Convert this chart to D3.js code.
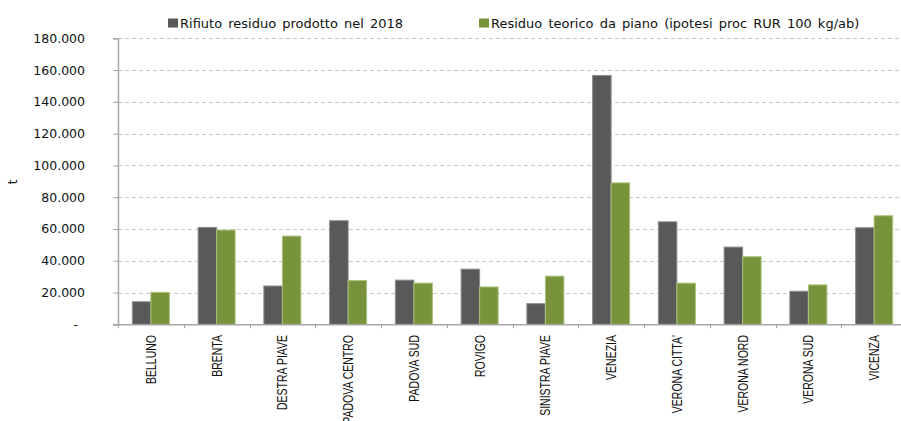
<!DOCTYPE html>
<html><head><meta charset="utf-8">
<script src="https://cdn.jsdelivr.net/npm/d3@7"></script>
<style>
body{margin:0;background:#fff;}
svg{display:block;}
</style></head>
<body>
<svg id="c" width="901" height="421"></svg>
<script>
const categories = ["BELLUNO","BRENTA","DESTRA PIAVE","PADOVA CENTRO","PADOVA SUD","ROVIGO","SINISTRA PIAVE","VENEZIA","VERONA CITTA'","VERONA NORD","VERONA SUD","VICENZA"];
const seriesNames = ["Rifiuto residuo prodotto nel 2018","Residuo teorico da piano (ipotesi proc RUR 100 kg/ab)"];
const prodotto2018 = [14200,61000,24100,65200,27800,34700,13000,156600,64500,48600,20800,60800];
const teorico = [20100,59300,55500,27500,25900,23500,30300,89000,25900,42500,24800,68300];
const yTicks = [0,20000,40000,60000,80000,100000,120000,140000,160000,180000];
const yTitle = "t";

const fills = ["#595959","#77933c"];
const strokes = ["#8c8c8c","#a9c27a"];

const svg = d3.select("#c");
const pLeft = 118, pRight = 907, pTop = 38.3, pBottom = 324.3;

const x = d3.scaleBand().domain(categories).range([pLeft, pRight]).paddingInner(0).paddingOuter(0);
const x1 = d3.scaleBand().domain([0,1]).range([0, x.bandwidth()]).paddingInner(0).paddingOuter(0.777);
const y = d3.scaleLinear().domain([0,180000]).range([pBottom, pTop]);

const fmt = v => v === 0 ? "-" : d3.format(",")(v).replace(/,/g, ".");

// gridlines
svg.append("g").selectAll("line").data(yTicks.filter(d => d > 0)).join("line")
  .attr("x1", pLeft).attr("x2", 901)
  .attr("y1", d => Math.round(y(d)) + 0.5).attr("y2", d => Math.round(y(d)) + 0.5)
  .attr("stroke", "#c8c8c8").attr("stroke-width", 1).attr("stroke-dasharray", "4,3");

// bars
const data = [prodotto2018, teorico];
const g = svg.append("g");
data.forEach((vals, si) => {
  g.selectAll(".b" + si).data(vals).join("rect")
    .attr("x", (d, i) => x(categories[i]) + x1(si))
    .attr("y", d => y(d))
    .attr("width", x1.bandwidth())
    .attr("height", d => pBottom - y(d))
    .attr("fill", fills[si])
    .attr("stroke", strokes[si]).attr("stroke-width", 1);
});

// y axis
const yAxis = d3.axisLeft(y).tickValues(yTicks).tickFormat(fmt).tickSize(5).tickPadding(28);
const ya = svg.append("g").attr("transform", `translate(${pLeft},0)`).call(yAxis);
ya.select(".domain").attr("stroke", "#a6a6a6").attr("stroke-width", 1.5);
ya.selectAll(".tick line").attr("stroke", "#a6a6a6");
ya.selectAll(".tick text").attr("font-family", "'DejaVu Sans', Verdana, sans-serif").attr("font-size", "12.5px").attr("fill", "#111")
  .filter(d => d === 0).attr("dx", "-7");

// x axis line
svg.append("line").attr("x1", pLeft - 5).attr("x2", 901).attr("y1", pBottom + 0.5).attr("y2", pBottom + 0.5)
  .attr("stroke", "#a6a6a6").attr("stroke-width", 1.5);
// x ticks at category boundaries
svg.append("g").selectAll("line").data(categories).join("line")
  .attr("x1", d => Math.round(x(d)) + 0.5).attr("x2", d => Math.round(x(d)) + 0.5)
  .attr("y1", pBottom).attr("y2", pBottom + 4)
  .attr("stroke", "#a6a6a6").attr("stroke-width", 1);
// x labels (condensed look)
svg.append("g").selectAll("text").data(categories).join("text")
  .attr("transform", d => `translate(${x(d) + x.bandwidth()/2},335) rotate(-90) scale(0.75,1)`)
  .attr("text-anchor", "end").attr("dy", "0.36em")
  .attr("font-family", "'Liberation Sans', Arial, sans-serif")
  .attr("font-size", "14px").attr("fill", "#111")
  .text(d => d);

// y title
svg.append("text").attr("transform", "translate(13,182) rotate(-90)")
  .attr("text-anchor", "middle").attr("dy", "0.35em")
  .attr("font-family", "'DejaVu Sans', Verdana, sans-serif").attr("font-size", "12px").attr("fill", "#111")
  .text(yTitle);

// legend
const legX = [168, 479];
seriesNames.forEach((n, i) => {
  svg.append("rect").attr("x", legX[i]).attr("y", 18.5).attr("width", 10).attr("height", 9).attr("fill", fills[i]);
  svg.append("text").attr("x", legX[i] + 12).attr("y", 23).attr("dy", "0.35em")
    .attr("font-family", "'DejaVu Sans', Verdana, sans-serif").attr("font-size", "13px")
    .attr("word-spacing", "2px").attr("fill", "#111").text(n);
});
</script>
</body></html>
